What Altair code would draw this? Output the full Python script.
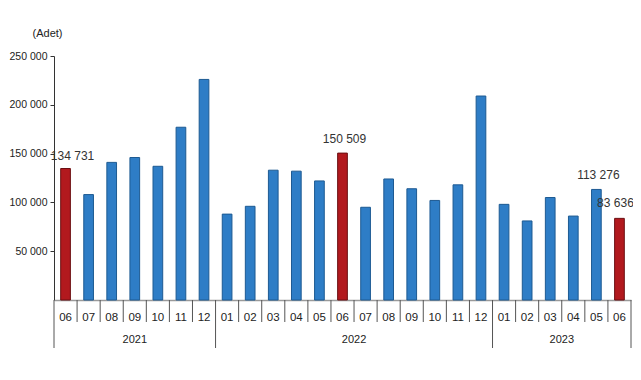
import altair as alt
import pandas as pd

months = ["06", "07", "08", "09", "10", "11", "12",
          "01", "02", "03", "04", "05", "06", "07", "08", "09", "10", "11", "12",
          "01", "02", "03", "04", "05", "06"]
years = ["2021"] * 7 + ["2022"] * 12 + ["2023"] * 6
values = [134731, 108000, 141000, 146000, 137000, 177000, 226000,
          88000, 96000, 133000, 132000, 122000, 150509, 95000, 124000, 114000, 102000, 118000, 209000,
          98000, 81000, 105000, 86000, 113276, 83636]
labels = ["134 731", "", "", "", "", "", "",
          "", "", "", "", "", "150 509", "", "", "", "", "", "",
          "", "", "", "", "113 276", "83 636"]
y_ticks = [50000, 100000, 150000, 200000, 250000]

W, H = 577, 244
FONT = "Liberation Sans"
N = len(months)

df = pd.DataFrame({
    "idx": list(range(N)),
    "month": months,
    "year": years,
    "value": values,
    "label": labels,
})
df["kind"] = ["june" if m == "06" else "other" for m in months]

# boundaries between categories (month separators, year separators)
b_pos, b_year = [], []
for i, m in enumerate(months):
    b_pos.append(i - 0.5)
    b_year.append(i == 0 or m == "01")
b_pos.append(N - 0.5)
b_year.append(True)
bdf = pd.DataFrame({"pos": b_pos, "yearsep": b_year})

xscale = alt.Scale(domain=[-0.5, N - 0.5], nice=False, zero=False)
yscale = alt.Scale(domain=[0, 250000], nice=False)

base = alt.Chart(df)

bars = base.transform_calculate(
    lo="datum.idx - 0.21", hi="datum.idx + 0.21"
).mark_bar(strokeWidth=1).encode(
    x=alt.X("lo:Q", scale=xscale,
            axis=alt.Axis(labels=False, ticks=False, title=None, grid=False,
                          domainColor="#9a9a9a", domainWidth=1.5)),
    x2="hi:Q",
    y=alt.Y("value:Q", scale=yscale,
            axis=alt.Axis(values=y_ticks, grid=False, tickSize=4,
                          labelExpr="datum.value == 0 ? '' : floor(datum.value / 1000) + ' 000'",
                          labelFont=FONT, labelFontSize=10.5, labelColor="#222",
                          labelPadding=3, domainColor="#333", tickColor="#333",
                          title="(Adet)", titleAngle=0, titleFont=FONT, titleFontSize=11,
                          titleFontWeight="normal", titleColor="#222", titleAlign="center",
                          titleBaseline="middle", titleX=-7, titleY=-23)),
    y2=alt.datum(0),
    color=alt.Color("kind:N", scale=alt.Scale(domain=["june", "other"],
                                              range=["#B2191E", "#2E7DC6"]), legend=None),
    stroke=alt.Stroke("kind:N", scale=alt.Scale(domain=["june", "other"],
                                                range=["#6B0F12", "#1D5A92"]), legend=None),
)


def value_labels(cond, dx, dy):
    return base.transform_filter(cond).mark_text(
        font=FONT, fontSize=12, color="#333", baseline="middle", dy=dy, dx=dx
    ).encode(x=alt.X("idx:Q", scale=xscale), y=alt.Y("value:Q", scale=yscale), text="label:N")


lab_first = value_labels("datum.label != '' && datum.idx == 0", 7, -13)
lab_mid = value_labels(f"datum.label != '' && datum.idx > 0 && datum.idx < {N - 1}", 2, -14)
lab_last = value_labels(f"datum.label != '' && datum.idx == {N - 1}", -4, -15)

month_text = base.mark_text(font=FONT, fontSize=11.5, color="#222", baseline="middle").encode(
    x=alt.X("idx:Q", scale=xscale), y=alt.value(H + 18), text="month:N")

year_text = base.mark_text(font=FONT, fontSize=11, color="#222", baseline="middle").encode(
    x=alt.X("mean(idx):Q", scale=xscale), y=alt.value(H + 40), text="year:N",
    detail="year:N")

month_seps = alt.Chart(bdf).transform_filter("!datum.yearsep").mark_rule(
    color="#555", strokeWidth=1).encode(
    x=alt.X("pos:Q", scale=xscale), y=alt.value(H), y2=alt.value(H + 22))

year_seps = alt.Chart(bdf).transform_filter("datum.yearsep").mark_rule(
    color="#555", strokeWidth=1).encode(
    x=alt.X("pos:Q", scale=xscale), y=alt.value(H), y2=alt.value(H + 48))

chart = alt.layer(bars, lab_first, lab_mid, lab_last, month_text, year_text,
                  month_seps, year_seps).properties(
    width=W, height=H,
    autosize=alt.AutoSizeParams(type="none"),
    padding={"left": 46, "top": 48, "right": 2, "bottom": 70},
).configure(background="white").configure_view(strokeWidth=0, stroke="transparent")

chart.save("out.html", embed_options={"renderer": "svg", "actions": False})
